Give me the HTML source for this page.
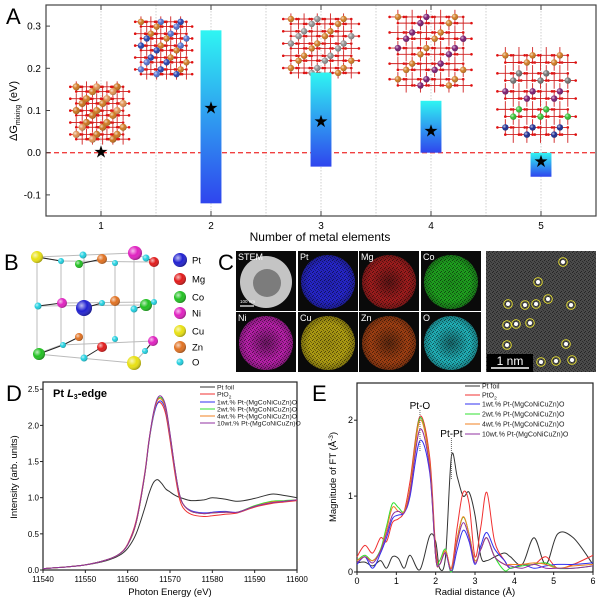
<!DOCTYPE html>
<html><head><meta charset="utf-8"><style>
body{margin:0;background:#fff;}
svg{display:block;font-family:"Liberation Sans",Arial,sans-serif;}
</style></head><body>
<svg id="fig" width="600" height="603" viewBox="0 0 600 603" xmlns="http://www.w3.org/2000/svg">
<defs id="defs">
<linearGradient id="barGrad" x1="0" y1="0" x2="0" y2="1"><stop offset="0" stop-color="#2ff5f2"/><stop offset="1" stop-color="#2f45ee"/></linearGradient>
<radialGradient id="ballG" cx="0.35" cy="0.35" r="0.7"><stop offset="0" stop-color="#fff" stop-opacity="0.7"/><stop offset="0.5" stop-color="#fff" stop-opacity="0"/><stop offset="1" stop-color="#000" stop-opacity="0.35"/></radialGradient>
<pattern id="noise" width="4" height="4" patternUnits="userSpaceOnUse"><rect width="4" height="4" fill="#000" opacity="0"/><rect x="0" y="0" width="1" height="1" fill="#000" opacity="0.5"/><rect x="2" y="1" width="1" height="1" fill="#000" opacity="0.4"/><rect x="1" y="3" width="1" height="1" fill="#000" opacity="0.5"/><rect x="3" y="2" width="1" height="1" fill="#000" opacity="0.35"/></pattern>
</defs>
<g id="panelA"></g>
<g id="panelB"></g>
<g id="panelC"></g>
<g id="panelD"></g>
<g id="panelE"></g>
</svg>
<script>
// ---------- Panel A data ----------
const aCategories = [1, 2, 3, 4, 5];
const aBarLow = [null, -0.12, -0.033, 0.0, -0.057];
const aBarHigh = [null, 0.29, 0.19, 0.123, 0.0];
const aStar = [0.0, 0.105, 0.073, 0.05, -0.022];
const aYTicks = [-0.1, 0.0, 0.1, 0.2, 0.3];
const aYTickLabels = ["-0.1", "0.0", "0.1", "0.2", "0.3"];

// ---------- Panel D data ----------
const dEnergy = [11540,11545,11550,11555,11558,11560,11562,11564,11565,11566,11567,11568,11569,11570,11571,11572,11573,11575,11578,11580,11583,11586,11590,11594,11597,11600];
const dPtFoil = [0.02,0.04,0.07,0.13,0.2,0.3,0.5,0.85,1.05,1.2,1.25,1.2,1.12,1.08,1.04,1.01,0.99,0.96,0.97,1.0,0.98,0.95,0.99,1.05,1.03,1.0];
const dPtO2 = [0.02,0.04,0.07,0.14,0.22,0.36,0.68,1.33,1.78,2.12,2.3,2.3,2.15,1.8,1.4,1.05,0.87,0.77,0.74,0.75,0.77,0.79,0.87,0.92,0.94,0.96];
const d1wt = [0.02,0.04,0.07,0.14,0.22,0.35,0.65,1.3,1.75,2.1,2.3,2.33,2.2,1.85,1.45,1.1,0.92,0.82,0.79,0.8,0.81,0.8,0.88,0.94,0.95,0.97];
const d2wt = [0.02,0.04,0.07,0.14,0.22,0.35,0.65,1.3,1.76,2.13,2.35,2.38,2.24,1.88,1.47,1.11,0.92,0.81,0.78,0.79,0.8,0.8,0.89,0.95,0.96,0.97];
const d4wt = [0.02,0.04,0.07,0.14,0.22,0.35,0.65,1.3,1.76,2.13,2.34,2.36,2.23,1.87,1.46,1.1,0.92,0.81,0.78,0.79,0.8,0.8,0.88,0.94,0.95,0.97];
const d10wt = [0.02,0.04,0.07,0.14,0.22,0.35,0.66,1.31,1.77,2.15,2.37,2.4,2.26,1.89,1.47,1.11,0.92,0.81,0.78,0.79,0.8,0.8,0.88,0.93,0.95,0.97];
const dXTicks = [11540,11550,11560,11570,11580,11590,11600];
const dYTicks = [0.0,0.5,1.0,1.5,2.0,2.5];
const dYTickLabels = ["0.0","0.5","1.0","1.5","2.0","2.5"];

// ---------- Panel E data ----------
const eR = [0,0.2,0.4,0.6,0.75,0.9,1.05,1.2,1.35,1.6,1.85,2.0,2.1,2.25,2.4,2.55,2.7,2.85,3.0,3.15,3.3,3.5,3.75,3.9,4.2,4.5,4.8,5.1,5.5,6.0];
const ePtFoil = [0.12,0.13,0.08,0.15,0.05,0.2,0.18,0.05,0.22,0.03,0.48,0.4,0.05,0.2,1.52,1.25,1.0,1.05,0.75,0.2,0.15,0.2,0.25,0.2,0.1,0.45,0.1,0.5,0.45,0.1];
const ePtO2 = [0.2,0.35,0.25,0.45,0.4,0.65,0.7,0.8,1.2,2.05,1.5,0.3,0.1,0.28,0.05,0.6,1.05,0.9,0.2,0.6,1.05,0.4,0.15,0.05,0.1,0.1,0.2,0.05,0.1,0.22];
const e1wt = [0.1,0.2,0.05,0.25,0.45,0.7,0.75,0.78,1.0,1.73,1.3,0.2,0.1,0.25,0.0,0.3,0.55,0.4,0.1,0.35,0.52,0.3,0.15,0.05,0.1,0.05,0.08,0.1,0.1,0.12];
const e2wt = [0.15,0.22,0.15,0.3,0.6,0.9,0.85,0.8,1.1,2.03,1.4,0.2,0.15,0.3,0.0,0.45,0.72,0.5,0.15,0.3,0.45,0.2,0.02,0.05,0.08,0.1,0.12,0.05,0.05,0.08];
const e4wt = [0.15,0.2,0.15,0.28,0.55,0.85,0.8,0.8,1.1,2.0,1.4,0.2,0.1,0.28,0.05,0.45,0.73,0.5,0.15,0.3,0.45,0.2,0.1,0.1,0.1,0.12,0.1,0.05,0.08,0.1];
const e10wt = [0.12,0.2,0.12,0.28,0.5,0.75,0.8,0.78,1.05,1.88,1.35,0.2,0.1,0.25,0.02,0.4,0.65,0.45,0.12,0.3,0.45,0.2,0.1,0.08,0.05,0.1,0.05,0.05,0.05,0.08];
const eXTicks = [0,1,2,3,4,5,6];
const eYTicks = [0,1,2];

const legendLabels = ["Pt foil","PtO\u2082","1wt.% Pt-(MgCoNiCuZn)O","2wt.% Pt-(MgCoNiCuZn)O","4wt.% Pt-(MgCoNiCuZn)O","10wt.% Pt-(MgCoNiCuZn)O"];
const seriesColors = ["#333333","#f03030","#3030f0","#30e030","#f08020","#9030a0"];

const NS = "http://www.w3.org/2000/svg";
function mk(parent, tag, attrs, text){
  const el = document.createElementNS(NS, tag);
  for (const k in attrs) el.setAttribute(k, attrs[k]);
  if (text !== undefined) el.textContent = text;
  parent.appendChild(el);
  return el;
}
function smoothPath(pts){
  let d = "M" + pts[0][0].toFixed(1) + "," + pts[0][1].toFixed(1);
  for (let i = 0; i < pts.length - 1; i++){
    const p0 = pts[i-1] || pts[i], p1 = pts[i], p2 = pts[i+1], p3 = pts[i+2] || p2;
    const c1x = p1[0] + (p2[0]-p0[0])/6, c1y = p1[1] + (p2[1]-p0[1])/6;
    const c2x = p2[0] - (p3[0]-p1[0])/6, c2y = p2[1] - (p3[1]-p1[1])/6;
    d += " C" + c1x.toFixed(1)+","+c1y.toFixed(1)+" "+c2x.toFixed(1)+","+c2y.toFixed(1)+" "+p2[0].toFixed(1)+","+p2[1].toFixed(1);
  }
  return d;
}

// ================= PANEL A =================
(function(){
  const g = document.getElementById('panelA');
  const L = 46, R = 596, T = 5, B = 216;
  const xA = v => L + (v - 0.5) / 5 * (R - L);
  const yA = v => T + (0.35 - v) / 0.5 * (B - T);
  let t = mk(g,'text',{x:6,y:24,'font-size':22},'A');
   
  for (let k = 0; k < 9; k++){
    const v = 1 + k*0.5;
    const ln = mk(g,'line',{x1:xA(v),x2:xA(v),y1:T,y2:B,stroke:'#bbb','stroke-width':0.7,'stroke-dasharray':'1.5,1.5'});
     
  }
  const zl = mk(g,'line',{x1:L,x2:R,y1:yA(0),y2:yA(0),stroke:'#f04040','stroke-width':1.3,'stroke-dasharray':'5,3'});
   
  const clusters = [
    {x0:67,y0:80,x1:133,y1:148,cols:['#d07a20','#e09050','#c8701a']},
    {x0:132,y0:15,x1:196,y1:83,cols:['#2040b0','#d07a20','#5070d0']},
    {x0:279,y0:12,x1:364,y1:82,cols:['#909090','#7a1a60','#d07a20','#a0a0a0']},
    {x0:385,y0:8,x1:477,y1:97,cols:['#2040b0','#7a1a70','#a0a0a0','#d07a20']},
    {x0:493,y0:45,x1:581,y1:148,cols:['#30c030','#707070','#1a2a90','#7a1a70','#d07a20']}
  ];
  clusters.forEach((c,ci)=>{
    const cg = mk(g,'g',{});
     
    const n = 5, w = c.x1-c.x0, h = c.y1-c.y0;
    const nodes = [];
    for (let layer=0; layer<2; layer++)
      for (let i=0;i<n;i++) for (let j=0;j<n;j++){
        nodes.push([c.x0 + w*(0.14+0.62*i/(n-1)) + layer*w*0.09, c.y0 + h*(0.1+0.7*j/(n-1)) + layer*h*0.07, (i+j+layer)%2]);
      }
    nodes.forEach(p=>{
      mk(cg,'line',{x1:p[0]-w*0.09,x2:p[0]+w*0.09,y1:p[1],y2:p[1],stroke:'#d02020','stroke-width':0.9});
      mk(cg,'line',{x1:p[0],x2:p[0],y1:p[1]-h*0.08,y2:p[1]+h*0.08,stroke:'#d02020','stroke-width':0.9});
      mk(cg,'circle',{cx:p[0]-w*0.09,cy:p[1],r:1.3,fill:'#e01010'});
      mk(cg,'circle',{cx:p[0]+w*0.09,cy:p[1],r:1.3,fill:'#e01010'});
    });
    nodes.forEach((p,k)=>{
      if (p[2]===0){
        const col = c.cols[(k*7+ci)%c.cols.length];
        mk(cg,'circle',{cx:p[0],cy:p[1],r:ci===0?3.6:3.2,fill:col});
        mk(cg,'circle',{cx:p[0],cy:p[1],r:ci===0?3.6:3.2,fill:'url(#ballG)'});
      }
    });
  });
  aCategories.forEach((c,i)=>{
    if (aBarLow[i]===null) return;
    const bw = 0.19/5*(R-L);
    const y1 = yA(aBarHigh[i]), y2 = yA(aBarLow[i]);
    const r = mk(g,'rect',{x:xA(c)-bw/2,y:y1,width:bw,height:Math.max(1,y2-y1),fill:'url(#barGrad)'});
     
  });
  aCategories.forEach((c,i)=>{
    const s = mk(g,'text',{x:xA(c),y:yA(aStar[i])+5,'font-size':17,'text-anchor':'middle',fill:'#000'},'\u2605');
     
  });
  const fr = mk(g,'rect',{x:L,y:T,width:R-L,height:B-T,fill:'none',stroke:'#444','stroke-width':1.2});
   
  aYTicks.forEach((v,i)=>{
    mk(g,'line',{x1:L,x2:L+4,y1:yA(v),y2:yA(v),stroke:'#444'});
    const tl = mk(g,'text',{x:L-5,y:yA(v)+3.5,'font-size':10,'text-anchor':'end'},aYTickLabels[i]);
     
  });
  aCategories.forEach(c=>{
    mk(g,'line',{x1:xA(c),x2:xA(c),y1:B,y2:B-5,stroke:'#444'});
    mk(g,'line',{x1:xA(c),x2:xA(c),y1:T,y2:T+5,stroke:'#444'});
    const tl = mk(g,'text',{x:xA(c),y:B+13,'font-size':10,'text-anchor':'middle'},String(c));
     
  });
  const yt = mk(g,'text',{transform:'translate(17,111) rotate(-90)','font-size':11,'text-anchor':'middle'});
   
  yt.innerHTML = '\u0394G<tspan font-size="7" dy="3">mixing</tspan><tspan dy="-3"> (eV)</tspan>';
  const xt = mk(g,'text',{x:320,y:241,'font-size':12,'text-anchor':'middle'},'Number of metal elements');
   
})();

// ================= PANEL B =================
(function(){
  const g = document.getElementById('panelB');
  const t = mk(g,'text',{x:4,y:270,'font-size':22},'B');
   
  const wire = [[37,257,134,253],[61,261,154,262],[37,257,37,354],[134,253,134,363],[61,261,61,345],[154,262,154,341],
    [37,354,134,363],[61,345,154,341],[84,255,84,358],[115,263,115,339],[37,306,146,305],[61,303,154,302],[37,257,61,261],[134,253,154,262],[37,354,61,345],[134,363,154,341]];
  wire.forEach(w=>mk(g,'line',{x1:w[0],y1:w[1],x2:w[2],y2:w[3],stroke:'#bbb','stroke-width':1}));
  const bonds = [[37,257,61,261],[79,264,102,259],[146,258,154,262],[38,306,62,303],[84,308,102,303],[134,309,146,305],[39,354,63,345],[84,358,102,347],[145,351,153,341],[63,345,79,337]];
  bonds.forEach(w=>mk(g,'line',{x1:w[0],y1:w[1],x2:w[2],y2:w[3],stroke:'#222','stroke-width':1}));
  const C = {Pt:'#2020d0',Mg:'#e01818',Co:'#20c020',Ni:'#e020c0',Cu:'#e8e010',Zn:'#e07020',O:'#20d0e0'};
  const atoms = [['Cu',37,257,6],['O',61,261,3],['O',83,255,3.5],['Co',79,264,4],['Zn',102,259,5],['O',115,263,3],['Ni',135,253,7],['O',146,258,3.5],['Mg',154,262,5],
    ['O',38,306,3.5],['Ni',62,303,5],['Pt',84,308,8],['O',102,303,3],['Zn',115,301,5],['Co',146,305,6],['O',134,309,3.5],['O',154,302,3],
    ['Zn',79,337,4],['O',63,345,3],['O',115,339,3],['Mg',102,347,5],['Ni',153,341,5],['O',145,351,3],['Co',39,354,6],['O',84,358,3.5],['Cu',134,363,7]];
  atoms.forEach(a=>{
    const c = mk(g,'circle',{cx:a[1],cy:a[2],r:a[3],fill:C[a[0]]});
     
    mk(g,'circle',{cx:a[1],cy:a[2],r:a[3],fill:'url(#ballG)'});
  });
  const leg = [['Pt',260,7],['Mg',279,6],['Co',297,6],['Ni',313,6],['Cu',331,6],['Zn',347,6],['O',362,3.5]];
  leg.forEach(l=>{
    const c = mk(g,'circle',{cx:180,cy:l[1],r:l[2],fill:C[l[0]]});
     
    mk(g,'circle',{cx:180,cy:l[1],r:l[2],fill:'url(#ballG)'});
    const tx = mk(g,'text',{x:192,y:l[1]+3.5,'font-size':9.5},l[0]);
     
  });
})();

// ================= PANEL C =================
(function(){
  const g = document.getElementById('panelC');
  const defs = document.getElementById('defs');
  const t = mk(g,'text',{x:218,y:270,'font-size':22},'C');
   
  const tiles = [['STEM','#cccccc'],['Pt','#2a2ae8'],['Mg','#b82020'],['Co','#22b822'],['Ni','#d424c4'],['Cu','#c8b414'],['Zn','#b84814'],['O','#24ccd4']];
  const hollow = [false,false,true,false,true,false,true,true];
  const xs = [236,298,359,421], ys = [251,312];
  tiles.forEach((tl,i)=>{
    const x = xs[i%4], y = ys[Math.floor(i/4)];
    const tg = mk(g,'g',{});
     
    mk(tg,'rect',{x:x,y:y,width:60,height:60,fill:'#0a0a0a'});
    if (i===0){
      mk(tg,'circle',{cx:x+30,cy:y+31,r:26,fill:'#c4c4c4'});
      mk(tg,'circle',{cx:x+31,cy:y+32,r:14,fill:'#707070',opacity:0.85});
      mk(tg,'line',{x1:x+4,x2:x+18,y1:y+55,y2:y+55,stroke:'#fff','stroke-width':1.2});
      mk(tg,'text',{x:x+4,y:y+52,'font-size':4.5,fill:'#fff'},'100 nm');
    } else {
      const gid = 'rg'+i;
      const rg = mk(defs,'radialGradient',{id:gid,cx:'0.5',cy:'0.5',r:'0.5'});
      mk(rg,'stop',{offset:'0','stop-color':tl[1],'stop-opacity':hollow[i]?0.45:0.75});
      mk(rg,'stop',{offset:'0.7','stop-color':tl[1],'stop-opacity':0.85});
      mk(rg,'stop',{offset:'1','stop-color':tl[1],'stop-opacity':0.6});
      mk(tg,'circle',{cx:x+30,cy:y+31,r:27,fill:'url(#'+gid+')'});
      mk(tg,'circle',{cx:x+30,cy:y+31,r:27,fill:'url(#noise)'});
    }
    const lb = mk(tg,'text',{x:x+2,y:y+9,'font-size':9,fill:'#fff'},tl[0]);
     
  });
  const sg = mk(g,'g',{});
   
  mk(sg,'rect',{x:486,y:251,width:110,height:121,fill:'#4a4a4a'});
  mk(sg,'rect',{x:486,y:251,width:110,height:121,fill:'url(#noise)'});
  const pts = [[563,262],[538,282],[508,304],[525,305],[536,304],[548,299],[571,305],[507,325],[516,324],[530,323],[507,345],[566,344],[541,362],[556,361],[572,360]];
  pts.forEach(p=>{
    mk(sg,'circle',{cx:p[0],cy:p[1],r:2,fill:'#fff'});
    const c = mk(sg,'circle',{cx:p[0],cy:p[1],r:4.3,fill:'none',stroke:'#e8e030','stroke-width':0.9});
     
  });
  mk(sg,'rect',{x:487,y:354,width:46,height:18,fill:'#000'});
  mk(sg,'line',{x1:491,x2:529,y1:368,y2:368,stroke:'#fff','stroke-width':1.5});
  const sb = mk(sg,'text',{x:510,y:365,'font-size':12,fill:'#fff','text-anchor':'middle'},'1 nm');
   
})();

// ================= generic line panel =================
function linePanel(g, o){
  const xS = v => o.L + (v - o.xmin)/(o.xmax - o.xmin)*(o.R - o.L);
  const yS = v => o.B - (v - o.ymin)/(o.ymax - o.ymin)*(o.B - o.T);
  const fr = mk(g,'rect',{x:o.L,y:o.T,width:o.R-o.L,height:o.B-o.T,fill:'none',stroke:'#222','stroke-width':1.2});
   
  o.series.forEach((s,i)=>{
    const p = mk(g,'path',{d:smoothPath(o.x.map((xv,k)=>[xS(xv),yS(s[k])])),fill:'none',stroke:seriesColors[i],'stroke-width':1});
     
  });
  o.xTicks.forEach(v=>{
    mk(g,'line',{x1:xS(v),x2:xS(v),y1:o.B,y2:o.B+3,stroke:'#222'});
    const tl = mk(g,'text',{x:xS(v),y:o.B+12,'font-size':o.fs,'text-anchor':'middle'},String(v));
     
  });
  o.yTicks.forEach((v,i)=>{
    mk(g,'line',{x1:o.L-3,x2:o.L,y1:yS(v),y2:yS(v),stroke:'#222'});
    const tl = mk(g,'text',{x:o.L-4,y:yS(v)+3,'font-size':o.fs,'text-anchor':'end'},o.yLabels[i]);
     
  });
  legendLabels.forEach((lab,i)=>{
    const ly = o.legY[i];
    const ll = mk(g,'line',{x1:o.legX,x2:o.legX+15,y1:ly,y2:ly,stroke:seriesColors[i],'stroke-width':1});
     
    const tx = mk(g,'text',{x:o.legX+17,y:ly+2.5,'font-size':o.legFs,fill:'#222'});
     
    if (i===1) tx.innerHTML = 'PtO<tspan font-size="'+(o.legFs*0.7)+'" dy="2">2</tspan>';
    else tx.textContent = lab;
  });
  return {xS, yS};
}
const seriesNames = ['pt-foil','pto2','1wt','2wt','4wt','10wt'];

// ================= PANEL D =================
(function(){
  const g = document.getElementById('panelD');
  const t = mk(g,'text',{x:6,y:401,'font-size':22},'D');
   
  linePanel(g,{id:'d',L:43,R:297,T:382,B:570,xmin:11540,xmax:11600,ymin:0,ymax:2.6,
    x:dEnergy,series:[dPtFoil,dPtO2,d1wt,d2wt,d4wt,d10wt],names:seriesNames,
    xTicks:dXTicks,yTicks:dYTicks,yLabels:dYTickLabels,fs:8,legX:200,legY:[387,394,402,409,416,423],legFs:6.8});
  const ti = mk(g,'text',{x:53,y:397,'font-size':11,'font-weight':'bold'});
   
  ti.innerHTML = 'Pt <tspan font-style="italic">L</tspan><tspan font-size="7" dy="2">3</tspan><tspan dy="-2">-edge</tspan>';
  const xt = mk(g,'text',{x:170,y:595,'font-size':9.5,'text-anchor':'middle'},'Photon Energy (eV)');
   
  const yt = mk(g,'text',{transform:'translate(17,477) rotate(-90)','font-size':9.5,'text-anchor':'middle'},'Intensity (arb. units)');
   
})();

// ================= PANEL E =================
(function(){
  const g = document.getElementById('panelE');
  const t = mk(g,'text',{x:312,y:401,'font-size':22},'E');
   
  const ax = linePanel(g,{id:'e',L:357,R:593,T:383,B:572,xmin:0,xmax:6,ymin:0,ymax:2.49,
    x:eR,series:[ePtFoil,ePtO2,e1wt,e2wt,e4wt,e10wt],names:seriesNames,
    xTicks:eXTicks,yTicks:eYTicks,yLabels:['0','1','2'],fs:9,legX:465,legY:[386,395,404,414,424,434],legFs:7});
  mk(g,'line',{x1:ax.xS(1.6),x2:ax.xS(1.6),y1:410,y2:452,stroke:'#666','stroke-dasharray':'1,1'});
  mk(g,'line',{x1:ax.xS(2.4),x2:ax.xS(2.4),y1:438,y2:480,stroke:'#666','stroke-dasharray':'1,1'});
  const a1 = mk(g,'text',{x:ax.xS(1.6),y:409,'font-size':10,'text-anchor':'middle'},'Pt-O');
   
  const a2 = mk(g,'text',{x:ax.xS(2.4),y:437,'font-size':10,'text-anchor':'middle'},'Pt-Pt');
   
  const xt = mk(g,'text',{x:475,y:595,'font-size':9.5,'text-anchor':'middle'},'Radial distance (\u00c5)');
   
  const yt = mk(g,'text',{transform:'translate(336,477) rotate(-90)','font-size':9.5,'text-anchor':'middle'});
   
  yt.innerHTML = 'Magnitude of FT (\u00c5<tspan font-size="6.5" dy="-3">-3</tspan><tspan dy="3">)</tspan>';
})();
</script>
</body></html>
